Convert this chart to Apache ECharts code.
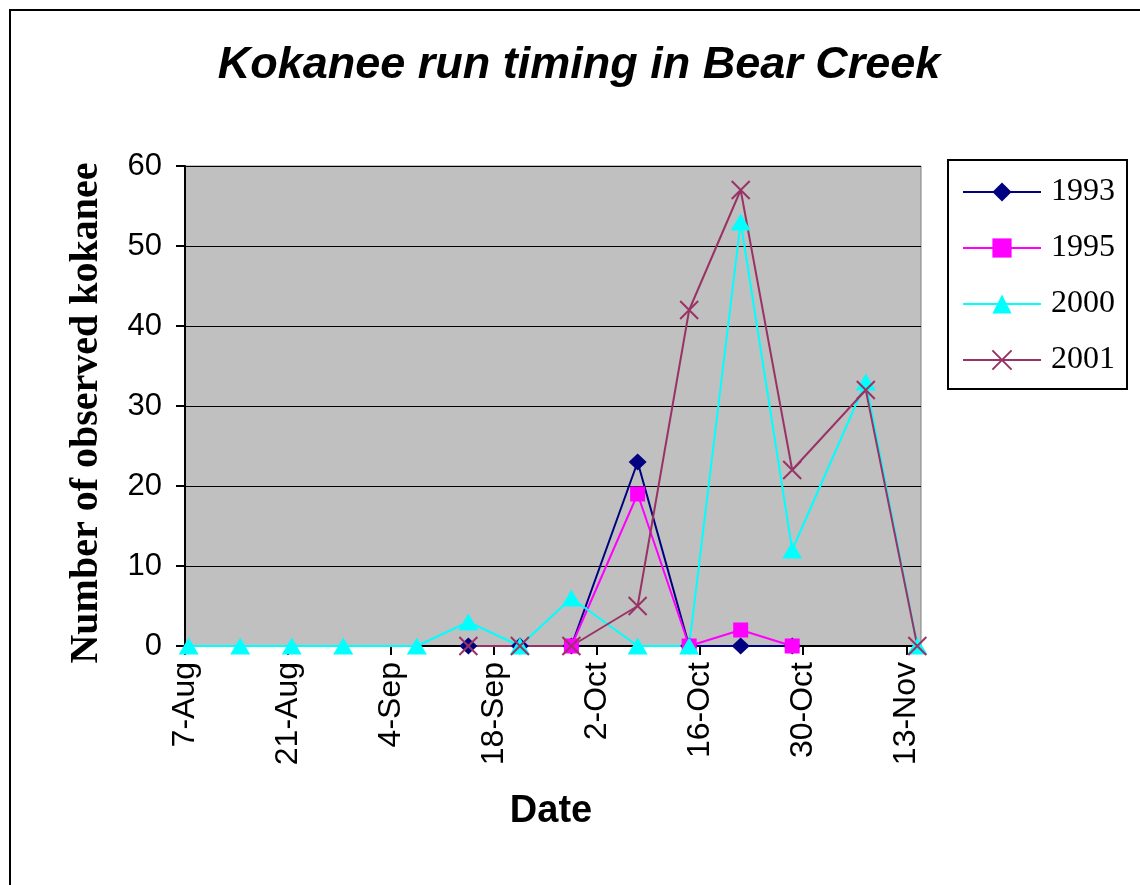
<!DOCTYPE html>
<html>
<head>
<meta charset="utf-8">
<script src="https://cdn.jsdelivr.net/npm/echarts@6/dist/echarts.min.js"></script>
<style>
  html, body { margin: 0; padding: 0; background: #fff; }
  #chart { width: 1140px; height: 885px; }
</style>
</head>
<body>
<div id="chart"></div>
<script>
const monthNames = ["Jan", "Feb", "Mar", "Apr", "May", "Jun", "Jul", "Aug", "Sep", "Oct", "Nov", "Dec"];

const xTickLabels = ["7-Aug", "21-Aug", "4-Sep", "18-Sep", "2-Oct", "16-Oct", "30-Oct", "13-Nov"];
const yTicks = [0, 10, 20, 30, 40, 50, 60];

const dates1993 = ["14-Sep", "21-Sep", "28-Sep", "7-Oct", "14-Oct", "21-Oct", "28-Oct"];
const counts1993 = [0, 0, 0, 23, 0, 0, 0];

const dates1995 = ["28-Sep", "7-Oct", "14-Oct", "21-Oct", "28-Oct"];
const counts1995 = [0, 19, 0, 2, 0];

const dates2000 = ["7-Aug", "14-Aug", "21-Aug", "28-Aug", "7-Sep", "14-Sep", "21-Sep", "28-Sep", "7-Oct", "14-Oct", "21-Oct", "28-Oct", "7-Nov", "14-Nov"];
const counts2000 = [0, 0, 0, 0, 0, 3, 0, 6, 0, 0, 53, 12, 33, 0];

const dates2001 = ["14-Sep", "21-Sep", "28-Sep", "7-Oct", "14-Oct", "21-Oct", "28-Oct", "7-Nov", "14-Nov"];
const counts2001 = [0, 0, 0, 5, 42, 57, 22, 32, 0];

// days counted from 7-Aug; Excel puts each point in the middle of its day
const start = Date.UTC(2001, 7, 7);
function dayOf(label) {
  const [d, m] = label.split("-");
  return (Date.UTC(2001, monthNames.indexOf(m), Number(d)) - start) / 864e5;
}
function labelOf(day) {
  const dt = new Date(start + day * 864e5);
  return dt.getUTCDate() + "-" + monthNames[dt.getUTCMonth()];
}
const pairs = (dates, counts) => dates.map((d, i) => [dayOf(d) + 0.5, counts[i]]);
const xTickValues = xTickLabels.map(dayOf);

const crossPath = "path://M0,0L10,10M10,0L0,10";

const chart = echarts.init(document.getElementById("chart"));
chart.setOption({
  animation: false,
  backgroundColor: "#fff",
  textStyle: { fontFamily: "Liberation Sans" },
  grid: {
    left: 185, top: 166, right: 219, bottom: 239,
    show: true, backgroundColor: "#c0c0c0", borderColor: "#808080", borderWidth: 1
  },
  xAxis: {
    type: "value",
    min: 0,
    max: 100,
    interval: 14,
    axisLine: { onZero: false, lineStyle: { color: "#000", width: 2 } },
    axisTick: { show: true, length: 9, lineStyle: { color: "#000", width: 2 }, customValues: xTickValues },
    splitLine: { show: false },
    axisLabel: {
      rotate: 90,
      margin: 16,
      fontSize: 32,
      color: "#000",
      fontFamily: "Liberation Sans",
      customValues: xTickValues,
      formatter(v) {
        return v % 14 === 0 ? labelOf(v) : "";
      }
    }
  },
  yAxis: {
    type: "value",
    min: yTicks[0],
    max: yTicks[yTicks.length - 1],
    interval: 10,
    axisLine: { show: true, lineStyle: { color: "#000", width: 2 } },
    axisTick: { show: true, length: 9, lineStyle: { color: "#000", width: 2 } },
    splitLine: { show: true, lineStyle: { color: "#000", width: 1 } },
    axisLabel: { margin: 23, fontSize: 31, color: "#000", fontFamily: "Liberation Sans" }
  },
  legend: {
    orient: "vertical",
    left: 948,
    top: 160,
    width: 177,
    padding: [16, 12, 13, 14],
    itemGap: 24,
    itemWidth: 78,
    itemHeight: 24,
    borderColor: "#000",
    borderWidth: 2,
    backgroundColor: "#fff",
    lineStyle: { width: 2 },
    textStyle: { fontFamily: "Liberation Serif", fontSize: 32, color: "#000", padding: [0, 0, 0, 5] },
    data: ["1993", "1995", "2000", "2001"]
  },
  series: [
    {
      name: "1993",
      type: "line",
      data: pairs(dates1993, counts1993),
      symbol: "diamond",
      symbolSize: [18, 17],
      lineStyle: { color: "#000080", width: 2 },
      itemStyle: { color: "#000080" }
    },
    {
      name: "1995",
      type: "line",
      data: pairs(dates1995, counts1995),
      symbol: "rect",
      symbolSize: 15,
      lineStyle: { color: "#ff00ff", width: 2 },
      itemStyle: { color: "#ff00ff" }
    },
    {
      name: "2000",
      type: "line",
      data: pairs(dates2000, counts2000),
      symbol: "triangle",
      symbolSize: [20, 17],
      lineStyle: { color: "#00ffff", width: 2 },
      itemStyle: { color: "#00ffff" }
    },
    {
      name: "2001",
      type: "line",
      data: pairs(dates2001, counts2001),
      symbol: crossPath,
      symbolSize: 18,
      lineStyle: { color: "#993366", width: 2 },
      itemStyle: { color: "rgba(0,0,0,0)", borderColor: "#993366", borderWidth: 2 }
    }
  ],
  graphic: [
    {
      type: "rect",
      silent: true,
      z: -1,
      shape: { x: 10, y: 10, width: 1200, height: 1000 },
      style: { fill: "none", stroke: "#000", lineWidth: 2 }
    },
    {
      type: "text",
      x: 579,
      y: 66,
      style: {
        text: "Kokanee run timing in Bear Creek",
        fontFamily: "Liberation Sans",
        fontSize: 45,
        fontWeight: "bold",
        fontStyle: "italic",
        fill: "#000",
        align: "center",
        verticalAlign: "middle"
      }
    },
    {
      type: "text",
      x: 551,
      y: 812,
      style: {
        text: "Date",
        fontFamily: "Liberation Sans",
        fontSize: 38,
        fontWeight: "bold",
        fill: "#000",
        align: "center",
        verticalAlign: "middle"
      }
    },
    {
      type: "text",
      x: 87,
      y: 413,
      rotation: Math.PI / 2,
      style: {
        text: "Number of observed kokanee",
        fontFamily: "Liberation Serif",
        fontSize: 40,
        fontWeight: "bold",
        fill: "#000",
        align: "center",
        verticalAlign: "middle"
      }
    }
  ]
});
</script>
</body>
</html>
